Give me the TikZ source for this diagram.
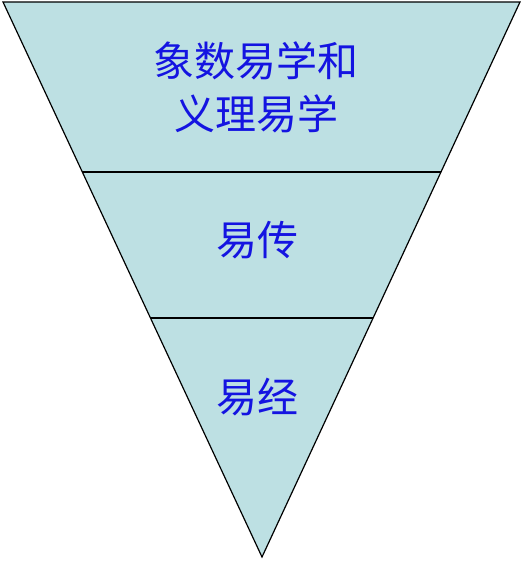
\documentclass[tikz,border=0pt]{standalone}
\usepackage{fontspec}
\newfontfamily\cjk{Noto Sans CJK SC}
\usetikzlibrary{calc}
\definecolor{layerfill}{RGB}{189,224,227}
\definecolor{layertext}{RGB}{20,20,225}

\begin{document}
\begin{tikzpicture}[x=1pt,y=-1pt]
\tikzstyle{every node}+=[inner sep=0pt]
\tikzstyle{layer}=[font=\cjk\fontsize{41}{53}\selectfont, text=layertext, align=center]
\tikzstyle{divider}=[black, line width=1.8pt]
\useasboundingbox (0,0) rectangle (526,562);
\fill [white] (0,0) rectangle (526,562);
\coordinate (tl) at (3,2);
\coordinate (tr) at (520,2);
\coordinate (apex) at (262,557);
\fill [layerfill] (tl) -- (tr) -- (apex) -- cycle;
\draw [black, line width=1.2pt, line join=miter] (tl) -- (tr) -- (apex) -- cycle;
\draw [divider] ($(tl)!0.3063!(apex)$) -- ($(tr)!0.3063!(apex)$);
\draw [divider] ($(tl)!0.5694!(apex)$) -- ($(tr)!0.5694!(apex)$);
\node [layer] (xiangshu) at (256,87) {象数易学和\\义理易学};
\node [layer] (yizhuan) at (257,240) {易传};
\node [layer] (yijing) at (257,397) {易经};
\end{tikzpicture}
\end{document}
